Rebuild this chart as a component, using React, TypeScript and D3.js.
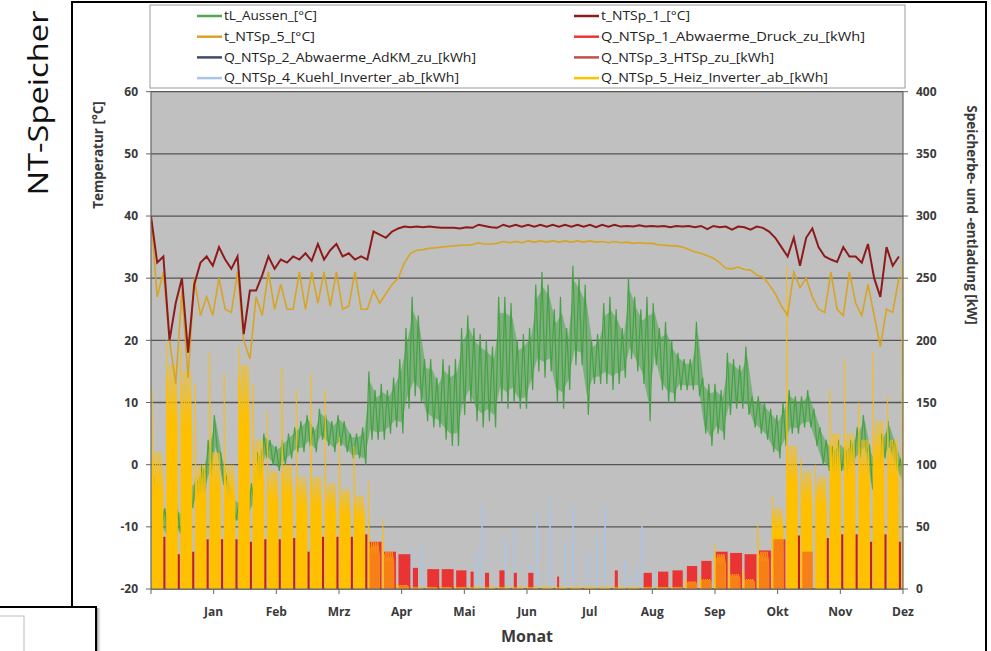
import React from "react";
import * as d3 from "d3";

// ---------------- DATA ----------------
const monthLabels = ["Jan", "Feb", "Mrz", "Apr", "Mai", "Jun", "Jul", "Aug", "Sep", "Okt", "Nov", "Dez"];
const tempTicks = [-20, -10, 0, 10, 20, 30, 40, 50, 60];
const powerTicks = [0, 50, 100, 150, 200, 250, 300, 350, 400];

// tL_Aussen: 3-day blocks, upper and lower envelope [°C]
const aussenMax = [
  -1, -6, -7, -9, -7, -8, -3, -2, 0, 4,
  8, 2, -2, -5, -6, -4, -3, 2, 5, 4,
  3, 4, 5, 6, 7, 8, 6, 9, 8, 7,
  8, 7, 5, 5, 6, 15, 12, 13, 12, 14,
  17, 22, 27, 24, 17, 17, 14, 17, 16, 17,
  22, 24, 22, 21, 20, 19, 27, 27, 26, 20,
  21, 22, 29, 31, 29, 25, 27, 22, 32, 30,
  29, 20, 21, 26, 27, 25, 22, 30, 27, 25,
  27, 26, 22, 23, 20, 18, 17, 17, 23, 14,
  13, 13, 12, 18, 17, 16, 19, 11, 11, 10,
  9, 8, 10, 12, 11, 11, 12, 9, 6, 4,
  3, 4, 3, 4, 6, 8, 3, 0, 5, 7,
  4, 1,
];
const aussenMin = [
  -4, -10, -12, -14, -11, -13, -7, -6, -5, -2,
  2, -3, -6, -9, -10, -9, -7, -3, 1, 0,
  -1, 0, 1, 2, 2, 3, 2, 4, 3, 2,
  3, 2, 1, 1, 0, 4, 4, 4, 5, 6,
  5, 9, 11, 10, 7, 6, 6, 4, 3, 3,
  8, 10, 7, 6, 7, 6, 10, 9, 10, 9,
  9, 12, 15, 14, 15, 10, 9, 12, 16, 16,
  8, 13, 13, 13, 12, 13, 14, 17, 15, 13,
  7, 16, 12, 10, 10, 12, 12, 12, 11, 5,
  3, 5, 4, 8, 9, 9, 8, 6, 5, 4,
  2, 1, 3, 5, 5, 6, 6, 3, 0, -1,
  -2, -1, -2, 0, 1, 2, -4, -4, 1, 2,
  -1, -3,
];

// t_NTSp_1 and t_NTSp_5, sampled every 3 days [°C]
const tNTSp1 = [
  40, 32.5, 33.5, 20, 26, 30, 18, 29, 32.5, 33.5,
  32, 35, 33, 31.5, 33.5, 21, 28, 28, 30.5, 33.5,
  31.5, 33, 32.5, 33.5, 33, 34, 32.8, 35.5, 33, 34.5,
  35.5, 33.5, 34, 33, 33.5, 33, 37.5, 37, 36.5, 37.5,
  38, 38.3, 38.2, 38.3, 38.2, 38.3, 38.2, 38.1, 38.1, 38.1,
  38, 38.2, 38.1, 38.6, 38.4, 38.2, 38.1, 38.6, 38.3, 38.6,
  38.3, 38.6, 38.3, 38.6, 38.3, 38.6, 38.3, 38.6, 38.3, 38.6,
  38.3, 38.6, 38.2, 38.6, 38.3, 38.6, 38.3, 38.4, 38.3, 38.5,
  38.3, 38.4, 38.3, 38.4, 38.2, 38.4, 38.3, 38.4, 38.2, 38.4,
  37.9, 38.4, 38.2, 38.3, 37.8, 38.3, 38.2, 37.8, 38.3, 38.1,
  37.5, 36.5, 35, 33.5, 36.5, 32, 36.5, 38, 35, 33.5,
  33, 32.6, 35, 33.5, 33.5, 32.5, 35.5, 30, 27, 35,
  32, 33.5,
];
const tNTSp5 = [
  40, 27, 31, 20, 13, 28, 14, 30, 24, 27,
  24, 30, 25, 24.5, 31, 20, 17, 27, 24, 31,
  25, 29, 25, 25, 31, 25, 31, 26, 31, 25.5,
  31, 25, 25.5, 31, 25, 25, 28, 26, 27.5, 29,
  30, 32.5, 34, 34.5, 34.6, 34.8, 34.9, 35, 35.1, 35.2,
  35.3, 35.3, 35.4, 35.7, 35.5, 35.5, 35.6, 35.9, 35.7, 35.9,
  35.7, 36, 35.8, 36, 35.8, 36, 35.8, 36, 35.8, 36,
  35.8, 36, 35.8, 35.9, 35.7, 35.9, 35.7, 35.8, 35.6, 35.7,
  35.6, 35.6, 35.4, 35.3, 35.2, 35.2, 35, 34.6, 34.2, 34,
  33.6, 33.2, 32.5, 31.6, 31.5, 31.8, 31.4, 31.3, 30.5, 30.2,
  29, 27.5, 25.5, 24, 31, 28.5, 30, 27, 25, 24.5,
  31, 25, 24, 31, 26, 24, 29, 24, 19, 25,
  24.5, 30,
];

// weekly values [kW]
const heizPeak = [
  160, 200, 195, 165, 190, 173, 195, 165, 143, 178,
  160, 173, 160, 122, 115, 87, 55, 4, 2, 2,
  2, 2, 2, 2, 2, 2, 2, 2, 2, 2,
  2, 2, 2, 2, 2, 2, 2, 8, 10, 36,
  25, 15, 52, 75, 260, 105, 100, 160, 185, 150,
  190, 155, 265,
];
const heizBody = [
  110, 180, 175, 100, 110, 100, 180, 120, 95, 100,
  90, 90, 85, 80, 75, 38, 30, 3, 1.5, 1.5,
  1.5, 1.5, 1.5, 1.5, 1.5, 1.5, 1.5, 1.5, 1.5, 1.5,
  1.5, 1.5, 1.5, 1.5, 1.5, 1.5, 1.5, 6, 8, 28,
  12, 8, 30, 65, 115, 95, 90, 125, 125, 120,
  135, 120, 120,
];
const druckKW = [
  0, 0, 0, 0, 0, 0, 0, 0, 0, 0,
  0, 0, 0, 0, 0, 38, 30, 28, 17, 16,
  16, 15, 14, 13, 15, 13, 13, 0, 10, 0,
  0, 0, 15, 0, 13, 14, 15, 18.5, 22.6, 30,
  29, 28, 31, 40, 0, 30, 0, 0, 0, 0,
  0, 0, 0,
];
const druckDays = [
  0, 0, 0, 0, 0, 0, 0, 0, 0, 0,
  0, 0, 0, 0, 0, 5.8, 5.8, 5.8, 2.5, 5.8,
  5.8, 5, 1.5, 2, 2.5, 1.5, 2.5, 0, 1, 0,
  0, 0, 1.5, 0, 4, 5, 5, 5, 5, 5.8,
  5.8, 5.8, 5.8, 5.8, 0, 5, 0, 0, 0, 0,
  0, 0, 0,
];
const htspKW = [
  42, 28, 30, 40, 40, 40, 38, 40, 40, 41,
  30, 42, 42, 42, 44, 0, 0, 0, 0, 0,
  0, 0, 0, 0, 0, 0, 0, 0, 0, 0,
  0, 0, 0, 0, 0, 0, 0, 0, 0, 0,
  0, 0, 0, 0, 43, 0, 41, 44, 44, 38,
  44, 38, 0,
];
const kuehlDay = [126.7, 131.5, 146, 158.2, 160.7, 171.8, 176.2, 184, 187.4, 193.7, 200.9, 204.8, 212.1, 216.5, 220.4, 230.1, 233, 235.9, 238.3, 243.2];
const kuehlKW = [31, 37, 18, 31, 69, 40, 48, 20, 61, 74, 39, 68, 31, 44, 66, 25, 10, 17, 51, 12];

const legendLeft = [
  { label: "tL_Aussen_[°C]", color: "#4EA84E" },
  { label: "t_NTSp_5_[°C]", color: "#D8A424" },
  { label: "Q_NTSp_2_Abwaerme_AdKM_zu_[kWh]", color: "#3E4C6A" },
  { label: "Q_NTSp_4_Kuehl_Inverter_ab_[kWh]", color: "#A9C5E8" },
];
const legendRight = [
  { label: "t_NTSp_1_[°C]", color: "#8E1B1B" },
  { label: "Q_NTSp_1_Abwaerme_Druck_zu_[kWh]", color: "#EE3535" },
  { label: "Q_NTSp_3_HTSp_zu_[kWh]", color: "#C0504D" },
  { label: "Q_NTSp_5_Heiz_Inverter_ab_[kWh]", color: "#FFC000" },
];

// style constants (text widths of the legend entries)
const legendWidthsLeft = [93, 91, 252, 235];
const legendWidthsRight = [89, 264, 173, 227];

const C = {
  green: "#45A345",
  darkRed: "#8E1B1B",
  gold: "#D8A424",
  yellow: "#FFC000",
  druck: "#EA3434",
  htsp: "#C41E1A",
  kuehl: "#A9C5E8",
  bg: "#C0C0C0",
  grid: "#555555",
  axisText: "#3A3A3A",
};

export default function App() {
  const W = 991, H = 651;
  const left = 151, right = 903, top = 91.7, bottom = 589;
  const x = d3.scaleLinear().domain([0, 365]).range([left, right]);
  const yT = d3.scaleLinear().domain([-20, 60]).range([bottom, top]);
  const yP = d3.scaleLinear().domain([0, 400]).range([bottom, top]);
  const monthX = (m: number) => x((m * 365) / 12);

  const lineT = d3.line<[number, number]>().x((d) => x(d[0])).y((d) => yT(d[1]));
  const lineP = d3.line<[number, number]>().x((d) => x(d[0])).y((d) => yP(d[1]));

  // green: zigzag between the envelopes + faint band
  const greenPts: [number, number][] = [];
  aussenMax.forEach((v, i) => {
    greenPts.push([3 * i + 0.75, v]);
    greenPts.push([3 * i + 2.25, aussenMin[i]]);
  });
  const bandArea = d3
    .area<number>()
    .x((_, i) => x(3 * i + 1.5))
    .y0((_, i) => yT(aussenMin[i] + (aussenMax[i] - aussenMin[i]) * 0.15))
    .y1((v, i) => yT(v - (aussenMax[i] - aussenMin[i]) * 0.15));

  const t1Pts: [number, number][] = tNTSp1.map((v, i) => [3 * i, v]);
  const t5Pts: [number, number][] = tNTSp5.map((v, i) => [3 * i, v]);

  // heating glyph per week: start spike, then daily saw-tooth on the body level
  const heizPaths = heizPeak.map((peak, k) => {
    const d0 = 7 * k;
    const body = heizBody[k];
    const pts: [number, number][] = [
      [d0 + 0.45, 0],
      [d0 + 0.5, peak],
      [d0 + 0.95, body * 0.8],
    ];
    [1, 2, 3, 4, 5].forEach((j) => {
      pts.push([d0 + j + 0.02, j === 1 ? body * 0.95 : body]);
      pts.push([d0 + j + (j === 5 ? 0.83 : 0.95), body * 0.72]);
    });
    pts.push([d0 + 5.9, 0]);
    return lineP(pts) + "Z";
  });

  const druckRects = druckKW
    .map((v, k) => ({ v, k, days: druckDays[k] }))
    .filter((d) => d.v > 0 && d.days > 0);

  const font = "'Open Sans', 'Noto Sans', 'DejaVu Sans', sans-serif";

  return (
    <svg width={W} height={H} style={{ position: "absolute", left: 0, top: 0, background: "#fff" }} fontFamily={font}>
      <defs>
        <clipPath id="plotClip">
          <rect x={left} y={top} width={right - left} height={bottom - top} />
        </clipPath>
        <clipPath id="heizClip">
          {heizPaths.map((p, i) => (
            <path key={i} d={p} />
          ))}
        </clipPath>
        <linearGradient id="shadow" x1="0" x2="1" y1="0" y2="0">
          <stop offset="0" stopColor="#777" stopOpacity="0.8" />
          <stop offset="1" stopColor="#fff" stopOpacity="0" />
        </linearGradient>
      </defs>

      {/* frames */}
      <rect x={0} y={0} width={W} height={H} fill="#fff" />
      <line x1={72} y1={2} x2={986} y2={2} stroke="#000" strokeWidth={2} />
      <line x1={72} y1={1} x2={72} y2={607} stroke="#000" strokeWidth={2} />
      <line x1={986} y1={1} x2={986} y2={H} stroke="#000" strokeWidth={2} />
      <line x1={0} y1={607} x2={96} y2={607} stroke="#000" strokeWidth={2} />
      <line x1={96} y1={606} x2={96} y2={H} stroke="#000" strokeWidth={2} />
      <rect x={97} y={608} width={5} height={H - 608} fill="url(#shadow)" />
      <rect x={-1} y={616} width={25} height={40} fill="#fff" stroke="#bbb" strokeWidth={1} />

      {/* title */}
      <text
        transform="translate(48,103) rotate(-90)"
        textAnchor="middle"
        fontSize={27}
        fill="#111"
        textLength={185}
        lengthAdjust="spacingAndGlyphs"
      >
        NT-Speicher
      </text>

      {/* plot background */}
      <rect x={left} y={top} width={right - left} height={bottom - top} fill={C.bg} />
      {tempTicks.map((t) => (
        <line key={t} x1={left} x2={right} y1={yT(t)} y2={yT(t)} stroke={C.grid} strokeWidth={1.3} />
      ))}

      <g clipPath="url(#plotClip)">
        {/* outside temperature */}
        <path d={bandArea(aussenMax) || ""} fill={C.green} opacity={0.55} />
        <path d={lineT(greenPts) || ""} fill="none" stroke={C.green} strokeWidth={1.2} />
        {/* cooling spikes */}
        {kuehlDay.map((d, i) => (
          <line key={i} x1={x(d)} x2={x(d)} y1={yP(0)} y2={yP(kuehlKW[i])} stroke={C.kuehl} strokeWidth={1.6} />
        ))}
        {/* compressor waste heat */}
        {druckRects.map((d) => (
          <rect
            key={d.k}
            x={x(7 * d.k + 1.1)}
            width={x(7 * d.k + 1.1 + d.days) - x(7 * d.k + 1.1)}
            y={yP(d.v)}
            height={yP(0) - yP(d.v)}
            fill={C.druck}
          />
        ))}
        {/* heating output */}
        {heizPaths.map((p, i) => (
          <path key={i} d={p} fill={C.yellow} stroke={C.yellow} strokeWidth={0.6} />
        ))}
        <g clipPath="url(#heizClip)">
          {druckRects.map((d) => (
            <rect
              key={d.k}
              x={x(7 * d.k + 1.1)}
              width={x(7 * d.k + 1.1 + d.days) - x(7 * d.k + 1.1)}
              y={yP(d.v)}
              height={yP(0) - yP(d.v)}
              fill={C.druck}
              opacity={0.45}
            />
          ))}
        </g>
        {/* HT storage input */}
        {htspKW.map((v, k) =>
          v > 0 ? (
            <rect
              key={k}
              x={x(7 * k + 6.0)}
              width={x(7 * k + 7.0) - x(7 * k + 6.0)}
              y={yP(v)}
              height={yP(0) - yP(v)}
              fill={C.htsp}
            />
          ) : null
        )}
        {/* storage temperatures */}
        <path d={lineT(t5Pts) || ""} fill="none" stroke={C.gold} strokeWidth={1.6} />
        <path d={lineT(t1Pts) || ""} fill="none" stroke={C.darkRed} strokeWidth={2} />
      </g>

      {/* axes */}
      <line x1={left} x2={left} y1={top} y2={bottom} stroke="#666" strokeWidth={1.2} />
      <line x1={right} x2={right} y1={top} y2={bottom} stroke="#666" strokeWidth={1.2} />
      <line x1={left} x2={right} y1={bottom} y2={bottom} stroke="#666" strokeWidth={1.2} />
      {tempTicks.map((t) => (
        <g key={t}>
          <line x1={left - 5} x2={left} y1={yT(t)} y2={yT(t)} stroke="#666" />
          <text x={138} y={yT(t)} dy="0.35em" textAnchor="end" fontSize={12} fontWeight="bold" fill={C.axisText}>
            {t}
          </text>
        </g>
      ))}
      {powerTicks.map((p) => (
        <g key={p}>
          <line x1={right} x2={right + 5} y1={yP(p)} y2={yP(p)} stroke="#666" />
          <text x={916} y={yP(p)} dy="0.35em" textAnchor="start" fontSize={12} fontWeight="bold" fill={C.axisText}>
            {p}
          </text>
        </g>
      ))}
      {d3.range(0, 13).map((m) => (
        <line key={m} x1={monthX(m)} x2={monthX(m)} y1={bottom} y2={bottom + 5} stroke="#666" />
      ))}
      {monthLabels.map((lab, i) => (
        <text key={lab} x={monthX(i + 1)} y={616} textAnchor="middle" fontSize={12} fontWeight="bold" fill={C.axisText}>
          {lab}
        </text>
      ))}
      <text x={527} y={642} textAnchor="middle" fontSize={16} fontWeight="bold" fill={C.axisText}>
        Monat
      </text>
      <text transform="translate(103,155) rotate(-90)" textAnchor="middle" fontSize={13.5} fontWeight="bold" fill={C.axisText}>
        Temperatur [°C]
      </text>
      <text transform="translate(967,215) rotate(90)" textAnchor="middle" fontSize={13.5} fontWeight="bold" fill={C.axisText}>
        Speicherbe- und -entladung [kW]
      </text>

      {/* legend */}
      <rect x={150} y={5} width={755} height={83} fill="#fff" stroke="#9a9a9a" strokeWidth={1} />
      {legendLeft.map((it, i) => {
        const yy = 16 + i * 20.7;
        return (
          <g key={it.label}>
            <line x1={197} x2={222} y1={yy} y2={yy} stroke={it.color} strokeWidth={2.5} />
            <text x={224} y={yy} dy="0.35em" fontSize={12.5} fill="#222" textLength={legendWidthsLeft[i]} lengthAdjust="spacingAndGlyphs">
              {it.label}
            </text>
          </g>
        );
      })}
      {legendRight.map((it, i) => {
        const yy = 16 + i * 20.7;
        return (
          <g key={it.label}>
            <line x1={574} x2={599} y1={yy} y2={yy} stroke={it.color} strokeWidth={2.5} />
            <text x={601} y={yy} dy="0.35em" fontSize={12.5} fill="#222" textLength={legendWidthsRight[i]} lengthAdjust="spacingAndGlyphs">
              {it.label}
            </text>
          </g>
        );
      })}
    </svg>
  );
}
